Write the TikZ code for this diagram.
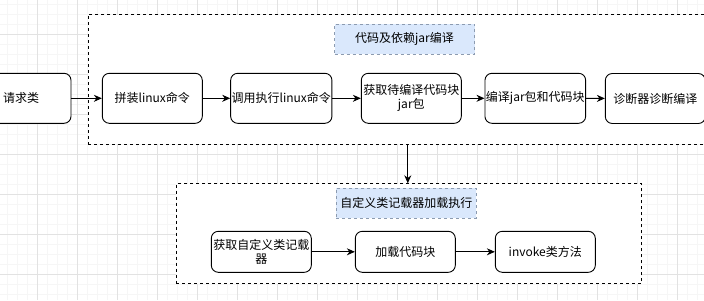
\documentclass[tikz,border=0pt]{standalone}
\usepackage{fontspec}
\setmainfont{Noto Sans CJK SC}
\usetikzlibrary{arrows.meta}
\definecolor{gridminor}{HTML}{F6F6F6}
\definecolor{gridmajor}{HTML}{E2E2E2}
\definecolor{lblfill}{HTML}{DAE8FC}
\definecolor{lbldraw}{HTML}{8C9BB0}
\tikzset{
  stepbox/.style={draw=black, line width=0.9pt, rounded corners=7pt, fill=white,
    minimum width=100pt, align=center, inner sep=1pt, font=\fontsize{12}{14}\selectfont},
  groupbox/.style={draw=black, line width=0.9pt, dash pattern=on 3pt off 3pt, fill=white},
  grouplabel/.style={draw=lbldraw, line width=0.8pt, dash pattern=on 3pt off 3pt, fill=lblfill,
    minimum width=140pt, minimum height=30pt, inner sep=0pt, font=\fontsize{12}{14}\selectfont},
  conn/.style={draw=black, line width=0.9pt, -{Stealth[length=8pt,width=7pt]}}
}
\begin{document}
\begin{tikzpicture}[x=1pt,y=-1pt]
\useasboundingbox (0,0) rectangle (704,300);
\begin{scope}
\clip (0,0) rectangle (704,300);
\fill[white] (0,0) rectangle (704,300);
\foreach \i in {-2,...,70} {\draw[gridminor, line width=0.5pt] ({7.7+10*\i},0) -- ({7.7+10*\i},300);}
\foreach \j in {-1,...,30} {\draw[gridminor, line width=0.5pt] (0,{4.3+10*\j}) -- (704,{4.3+10*\j});}
\foreach \i in {0,...,17} {\draw[gridmajor, line width=0.6pt] ({37.7+40*\i},0) -- ({37.7+40*\i},300);}
\foreach \j in {-1,...,7} {\draw[gridmajor, line width=0.6pt] (0,{34.3+40*\j}) -- (704,{34.3+40*\j});}

% top group
\node[groupbox, minimum width=639.3pt, minimum height=129.7pt, anchor=north west] (topgrp) at (87.7,14.3) {};
\node[grouplabel] (toplbl) at (404.5,39) {代码及依赖jar编译};
% lower group
\node[groupbox, minimum width=465.6pt, minimum height=100pt, anchor=north west] (lowgrp) at (175.7,183.3) {};
\node[grouplabel] (lowlbl) at (406.3,203.3) {自定义类记载器加载执行};

% row 1
\node[stepbox, minimum height=50pt] (req) at (21,98.3) {请求类};
\node[stepbox, minimum height=50pt] (a1) at (152.3,98.3) {拼装linux命令};
\node[stepbox, minimum height=50pt] (a2) at (281.3,98.3) {调用执行linux命令};
\node[stepbox, minimum height=50pt] (a3) at (411.3,98.3) {获取待编译代码块\\jar包};
\node[stepbox, minimum height=50pt] (a4) at (535.3,98.3) {编译jar包和代码块};
\node[stepbox, minimum height=50pt] (a5) at (655.3,98.5) {诊断器诊断编译};

% row 2
\node[stepbox, minimum height=41pt] (b1) at (261.3,251.8) {获取自定义类记载\\器};
\node[stepbox, minimum height=41pt] (b2) at (405.3,251.8) {加载代码块};
\node[stepbox, minimum height=41pt] (b3) at (545.3,251.8) {invoke类方法};

\draw[conn] (req) -- (a1);
\draw[conn] (a1) -- (a2);
\draw[conn] (a2) -- (a3);
\draw[conn] (a3) -- (a4);
\draw[conn] (a4) -- (a5);
\draw[conn] (b1) -- (b2);
\draw[conn] (b2) -- (b3);
\draw[conn] (topgrp.south) -- (topgrp.south |- lowgrp.north);
\end{scope}
\end{tikzpicture}
\end{document}
